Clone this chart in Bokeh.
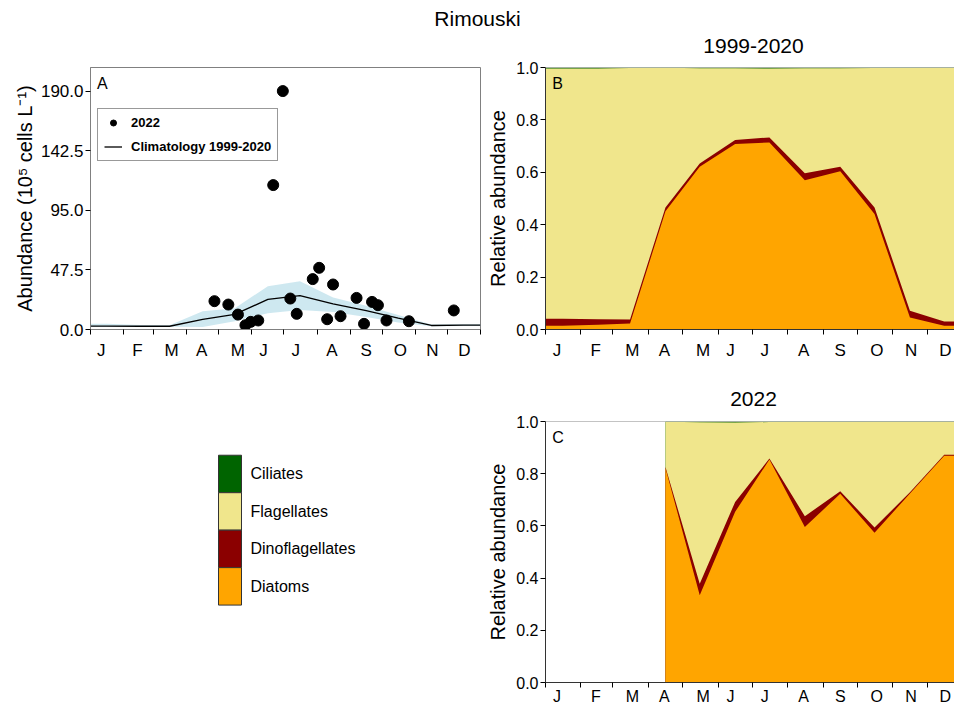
import numpy as np
from bokeh.plotting import figure
from bokeh.models import FixedTicker, PrintfTickFormatter, Range1d, Legend, LegendItem, Span, Label
from bokeh.layouts import column, row, Spacer
from bokeh.embed import file_html
from bokeh.resources import INLINE
from bokeh.core.properties import value

FONT = "Liberation Sans"

# ---------------- data ----------------
month_labels = ["J", "F", "M", "A", "M", "J", "J", "A", "S", "O", "N", "D"]
month_label_day = [10, 44, 76, 104, 138, 162, 192, 226, 258, 290, 320, 350]
month_start_day = [0, 31, 59, 90, 120, 151, 181, 212, 243, 273, 304, 334, 365]
month_mid_day = [15, 46, 74, 105, 135, 166, 196, 227, 258, 288, 319, 349]

# Panel A: 2022 observations (day of year, 10^5 cells/L)
obs_day = [116, 129, 138, 145, 150, 157, 171, 180, 187, 193, 208, 214,
           221.5, 227, 234, 249, 256, 263.5, 269, 277, 298, 340]
obs_abund = [22.6, 19.9, 11.9, 3.4, 6.1, 7.2, 115.2, 190.2, 24.7, 12.5, 40.2, 49.2,
             8.2, 35.9, 10.6, 25.2, 4.5, 22.0, 19.4, 7.2, 6.6, 15.2]

# Panel A: climatology 1999-2020 (monthly)
clim_mean = [2.7, 2.6, 2.6, 8.0, 12.0, 24.0, 27.0, 20.5, 15.0, 9.0, 3.2, 3.5]
clim_low = [2.0, 2.2, 2.2, 2.0, 6.5, 13.0, 15.5, 14.0, 10.0, 5.5, 2.5, 2.8]
clim_high = [4.5, 3.5, 3.3, 14.5, 17.0, 34.5, 38.5, 25.5, 19.0, 11.5, 4.0, 4.2]

# Panel B: relative abundance climatology (monthly)
clim_diatoms = [0.014, 0.018, 0.023, 0.451, 0.621, 0.708, 0.714, 0.570, 0.604, 0.441, 0.046, 0.014]
clim_dino = [0.027, 0.021, 0.015, 0.015, 0.013, 0.015, 0.019, 0.026, 0.017, 0.025, 0.026, 0.017]
clim_ciliates = [0.004, 0.004, 0.002, 0.001, 0.003, 0.003, 0.004, 0.003, 0.003, 0.002, 0.002, 0.001]

# Panel C: relative abundance 2022 (Apr-Dec)
y22_day = [105, 135, 166, 196, 227, 258, 288, 319, 349]
y22_diatoms = [0.822, 0.334, 0.654, 0.854, 0.596, 0.723, 0.574, 0.724, 0.869]
y22_dino = [0.004, 0.044, 0.038, 0.004, 0.041, 0.010, 0.020, 0.005, 0.004]
y22_ciliates = [0.001, 0.003, 0.004, 0.002, 0.001, 0.002, 0.001, 0.001, 0.001]

group_names = ["Ciliates", "Flagellates", "Dinoflagellates", "Diatoms"]
group_colors = ["#006400", "#F0E68C", "#8B0000", "#FFA500"]

abund_ticks = [0, 47.5, 95, 142.5, 190]
rel_ticks = [0, 0.2, 0.4, 0.6, 0.8, 1.0]

main_title = "Rimouski"
title_B = "1999-2020"
title_C = "2022"

YEAR_END = 365

# ---------------- helpers ----------------
def base_fig(**kw):
    p = figure(toolbar_location=None, output_backend="svg", **kw)
    p.grid.visible = False
    p.background_fill_color = "white"
    p.border_fill_color = "white"
    return p


def text_fig(w, h):
    p = base_fig(width=w, height=h, x_range=Range1d(0, w), y_range=Range1d(0, h),
                 x_axis_type=None, y_axis_type=None, min_border=0)
    p.outline_line_color = None
    return p


def month_axis(ax, font_size="17px", standoff=6):
    ax.ticker = FixedTicker(ticks=month_label_day, minor_ticks=month_start_day)
    ax.major_label_overrides = {d: lab for d, lab in zip(month_label_day, month_labels)}
    ax.major_tick_out = 0
    ax.major_tick_in = 0
    ax.minor_tick_out = 5
    ax.minor_tick_in = 0
    ax.minor_tick_line_color = "black"
    ax.major_label_standoff = standoff
    ax.major_label_text_font = FONT
    ax.major_label_text_font_size = font_size
    ax.major_label_text_color = "black"
    ax.axis_line_color = "#333333"


def value_axis(ax, ticks, label, tick_font, label_font, lab_standoff, axl_standoff):
    ax.ticker = FixedTicker(ticks=ticks)
    ax.formatter = PrintfTickFormatter(format="%.1f")
    ax.major_tick_out = 5
    ax.major_tick_in = 0
    ax.minor_tick_out = 0
    ax.minor_tick_in = 0
    ax.major_tick_line_color = "black"
    ax.major_label_standoff = lab_standoff
    ax.major_label_text_font = FONT
    ax.major_label_text_font_size = tick_font
    ax.major_label_text_color = "black"
    ax.axis_label = label
    ax.axis_label_text_font = FONT
    ax.axis_label_text_font_size = label_font
    ax.axis_label_text_font_style = "normal"
    ax.axis_label_text_color = "black"
    ax.axis_label_standoff = axl_standoff
    ax.axis_line_color = "#333333"


def stacked(p, x, diatoms, dino, ciliates):
    diatoms = np.asarray(diatoms)
    dino = np.asarray(dino)
    ciliates = np.asarray(ciliates)
    tops = [np.ones(len(x)), 1.0 - ciliates, diatoms + dino, diatoms]
    zero = np.zeros(len(x))
    for top, col in zip(tops, group_colors):
        p.varea(x=x, y1=zero, y2=top, fill_color=col, fill_alpha=1.0)


def extend(days, vals, left=True, right=True):
    d = list(days)
    v = list(vals)
    if left:
        d = [0] + d
        v = [v[0]] + v
    if right:
        d = d + [YEAR_END]
        v = v + [v[-1]]
    return d, v


def panel_letter(p, txt, x, y):
    p.add_layout(Label(x=x, y=y, text=txt, text_font=FONT, text_font_size="16px",
                       text_baseline="middle", text_align="left", text_color="black"))


def put_text(p, x, y, txt, size="21px"):
    p.text(x=[x], y=[y], text=[txt], text_font=value(FONT), text_font_size=size,
           text_align="center", text_baseline="middle", text_color="black")


PAGE_W = 954
LEFT_W = 482
RIGHT_W = PAGE_W - LEFT_W

# ---------------- header (main title + B title) ----------------
HEAD_H = 58
header = text_fig(PAGE_W, HEAD_H)
put_text(header, PAGE_W / 2, HEAD_H - 18, main_title)
put_text(header, 753, HEAD_H - 45.5, title_B)

# ---------------- panel A ----------------
ROW1_H = 313
pA = base_fig(width=LEFT_W, height=ROW1_H, x_range=Range1d(0, YEAR_END), y_range=Range1d(0, 209),
              min_border_left=90, min_border_right=2, min_border_top=9, min_border_bottom=42)
pA.outline_line_color = "#808080"
cx, cm = extend(month_mid_day, clim_mean)
_, cl = extend(month_mid_day, clim_low)
_, ch = extend(month_mid_day, clim_high)
pA.varea(x=cx, y1=cl, y2=ch, fill_color="#ADD8E6", fill_alpha=0.6)
ln = pA.line(cx, cm, line_color="black", line_width=1.3)
sc = pA.scatter(obs_day, obs_abund, size=11, color="black")
month_axis(pA.xaxis[0])
value_axis(pA.yaxis[0], abund_ticks, "Abundance (10\u2075 cells L\u207b\u00b9)", "17px", "20px", 2, 2)
pA.xaxis[0].axis_line_color = "#808080"
pA.yaxis[0].axis_line_color = "#808080"
panel_letter(pA, "A", 6, 196)
leg = Legend(items=[LegendItem(label="2022", renderers=[sc]),
                    LegendItem(label="Climatology 1999-2020", renderers=[ln])],
             location=(7, 168))
leg.label_text_font = FONT
leg.label_text_font_size = "13px"
leg.label_text_font_style = "bold"
leg.label_text_color = "black"
leg.border_line_color = "#333333"
leg.border_line_width = 1
leg.background_fill_color = "white"
leg.background_fill_alpha = 1.0
leg.glyph_width = 18
leg.glyph_height = 15
leg.label_height = 15
leg.label_standoff = 9
leg.spacing = 9
leg.padding = 6
leg.margin = 0
pA.add_layout(leg)

# ---------------- panel B ----------------
pB = base_fig(width=RIGHT_W, height=ROW1_H, x_range=Range1d(0, 358), y_range=Range1d(0, 1),
              min_border_left=63, min_border_right=0, min_border_top=9, min_border_bottom=42)
pB.outline_line_color = None
bx, bdia = extend(month_mid_day, clim_diatoms)
_, bdin = extend(month_mid_day, clim_dino)
_, bcil = extend(month_mid_day, clim_ciliates)
stacked(pB, bx, bdia, bdin, bcil)
pB.add_layout(Span(location=rel_ticks[-1], dimension="width", line_color="#888888", line_width=1))
month_axis(pB.xaxis[0])
value_axis(pB.yaxis[0], rel_ticks, "Relative abundance", "16px", "20px", 2, 4)
panel_letter(pB, "B", 6, 0.94)

# ---------------- C title strip ----------------
CT_H = 40
spacer = Spacer(width=LEFT_W, height=CT_H)
titleC = text_fig(RIGHT_W, CT_H)
put_text(titleC, 753 - LEFT_W, 12.5, title_C)

# ---------------- legend panel ----------------
ROW2_H = 296
pL = base_fig(width=LEFT_W, height=ROW2_H, x_range=Range1d(0, LEFT_W), y_range=Range1d(-2.066, 4.9),
              x_axis_type=None, y_axis_type=None, min_border_left=0, min_border_right=0,
              min_border_top=10, min_border_bottom=23)
pL.outline_line_color = None
n = len(group_names)
tops = [n - i for i in range(n)]
bottoms = [n - i - 1 for i in range(n)]
pL.quad(left=[218] * n, right=[241] * n, top=tops, bottom=bottoms,
        fill_color=group_colors, line_color="#333333", line_width=1)
pL.text(x=[250] * n, y=[b + 0.5 for b in bottoms], text=group_names, text_font=value(FONT),
        text_font_size="16px", text_baseline="middle", text_align="left", text_color="black")

# ---------------- panel C ----------------
pC = base_fig(width=RIGHT_W, height=ROW2_H, x_range=Range1d(0, 358), y_range=Range1d(0, 1),
              min_border_left=63, min_border_right=0, min_border_top=10, min_border_bottom=23)
pC.outline_line_color = None
c_x, c_dia = extend(y22_day, y22_diatoms, left=False)
_, c_din = extend(y22_day, y22_dino, left=False)
_, c_cil = extend(y22_day, y22_ciliates, left=False)
stacked(pC, c_x, c_dia, c_din, c_cil)
pC.add_layout(Span(location=rel_ticks[-1], dimension="width", line_color="#888888", line_width=1))
month_axis(pC.xaxis[0], font_size="16px", standoff=0)
value_axis(pC.yaxis[0], rel_ticks, "Relative abundance", "16px", "20px", 2, 4)
panel_letter(pC, "C", 6, 0.94)

layout = column(header, row(pA, pB), row(spacer, titleC), row(pL, pC))
open("out.html", "w").write(file_html(layout, INLINE))
